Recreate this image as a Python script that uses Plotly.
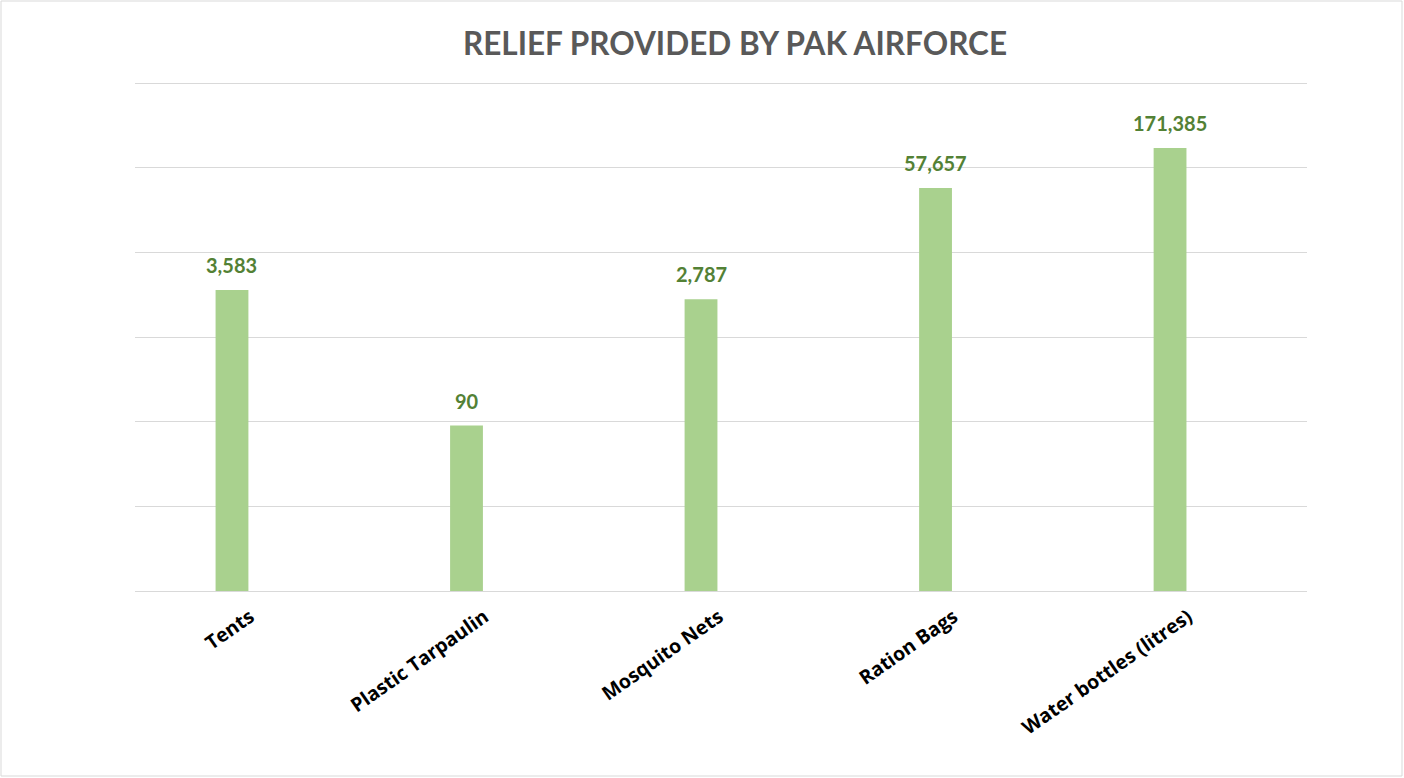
import math
import plotly.graph_objects as go

categories = ["Tents", "Plastic Tarpaulin", "Mosquito Nets", "Ration Bags", "Water bottles (litres)"]
values = [3583, 90, 2787, 57657, 171385]
title_text = "RELIEF PROVIDED BY PAK AIRFORCE"

bar_color = "#a9d18e"
label_color = "#538135"
grid_color = "#d9d9d9"

fig = go.Figure()
fig.add_trace(go.Bar(
    x=list(range(len(categories))), y=values,
    marker=dict(color=bar_color, line=dict(width=0)),
    width=0.14, hoverinfo="skip",
))

annotations = []
for i, v in enumerate(values):
    annotations.append(dict(
        x=i, y=math.log10(v), xref="x", yref="y", yanchor="bottom", yshift=11,
        text=f"<b>{v:,}</b>", showarrow=False,
        font=dict(family="Lato, Open Sans, sans-serif", size=20, color=label_color),
    ))

# plot area: x 135..1307, y ~78..591 (6 decades = 508 px)
fig.update_layout(
    width=1404, height=778,
    margin=dict(l=135, r=97, t=78, b=187),
    paper_bgcolor="white", plot_bgcolor="white",
    showlegend=False,
    title=dict(text=f"<b>{title_text}</b>", x=735 / 1404, xanchor="center",
               y=1 - 44 / 778, yanchor="middle",
               font=dict(family="Lato, Open Sans, sans-serif", size=31.5, color="#595959")),
    xaxis=dict(
        range=[-0.4136, 4.584], tickmode="array",
        tickvals=list(range(len(categories))),
        ticktext=[f"<b>{c}</b>" for c in categories],
        tickangle=-35, showgrid=False, zeroline=False,
        showline=True, linecolor=grid_color, linewidth=1,
        tickfont=dict(family="Open Sans, sans-serif", size=19.5, color="#000000"),
        ticks="", fixedrange=True, ticklabelshift=18, ticklabelstandoff=6,
    ),
    yaxis=dict(
        type="log", range=[0, 6.06], dtick=1, showticklabels=False,
        showgrid=True, gridcolor=grid_color, gridwidth=1,
        zeroline=False, showline=False, ticks="",
    ),
    annotations=annotations,
    shapes=[dict(type="rect", xref="paper", yref="paper",
                 x0=(1 - 135) / 1172, x1=(1402 - 135) / 1172,
                 y0=(591 - 776) / 513, y1=(591 - 1) / 513,
                 line=dict(color=grid_color, width=1), fillcolor="rgba(0,0,0,0)",
                 layer="below")],
)

fig.write_html("out.html", config={"displayModeBar": False},
               post_script="document.body.style.margin='0';")
